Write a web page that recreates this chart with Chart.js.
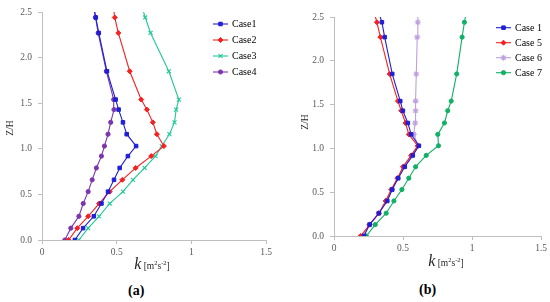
<!DOCTYPE html>
<html>
<head>
<meta charset="utf-8">
<script src="https://cdn.jsdelivr.net/npm/chart.js@4/dist/chart.umd.min.js"></script>
<style>
  html, body { margin: 0; padding: 0; background: #fff; }
  #wrap { position: relative; width: 550px; height: 302px; overflow: hidden; }
  canvas { position: absolute; top: 0; }
  #chartA { left: 0; }
  #chartB { left: 275px; }
  .tag { position: absolute; font: bold 14px 'Liberation Serif', 'Times New Roman', serif; color: #000; }
</style>
</head>
<body>
<div id="wrap">
  <canvas id="chartA" width="275" height="280"></canvas>
  <canvas id="chartB" width="275" height="280"></canvas>
  <div class="tag" style="left:128px; top:283px;">(a)</div>
  <div class="tag" style="left:419px; top:282px;">(b)</div>
</div>
<script>
// Z/H levels shared by every profile (last one is the clipped top of the lines)
const levelsZH = [0, 0.13, 0.26, 0.40, 0.53, 0.66, 0.79, 0.92, 1.03, 1.16, 1.29, 1.43, 1.54, 1.85, 2.27, 2.44, 2.5];

// panel (a)
const case1A = [0.22, 0.275, 0.347, 0.398, 0.442, 0.482, 0.52, 0.575, 0.63, 0.567, 0.542, 0.513, 0.493, 0.435, 0.38, 0.36, 0.353];
const case2A = [0.178, 0.236, 0.309, 0.382, 0.453, 0.538, 0.627, 0.731, 0.816, 0.769, 0.742, 0.702, 0.664, 0.587, 0.511, 0.487, 0.482];
const case3A = [0.247, 0.309, 0.382, 0.453, 0.542, 0.609, 0.687, 0.76, 0.802, 0.853, 0.887, 0.898, 0.916, 0.849, 0.727, 0.691, 0.68];
const case4A = [0.153, 0.193, 0.247, 0.276, 0.309, 0.336, 0.364, 0.398, 0.418, 0.442, 0.46, 0.482, 0.48, 0.431, 0.376, 0.358, 0.352];

// panel (b)
const case1B = [0.217, 0.258, 0.325, 0.386, 0.422, 0.465, 0.513, 0.571, 0.615, 0.559, 0.535, 0.499, 0.48, 0.422, 0.367, 0.347, 0.335];
const case5B = [0.193, 0.258, 0.325, 0.374, 0.415, 0.46, 0.50, 0.559, 0.606, 0.542, 0.518, 0.487, 0.463, 0.403, 0.336, 0.311, 0.30];
const case6B = [0.205, 0.258, 0.325, 0.38, 0.418, 0.462, 0.506, 0.565, 0.61, 0.578, 0.588, 0.591, 0.591, 0.596, 0.603, 0.607, 0.608];
const case7B = [0.234, 0.299, 0.378, 0.434, 0.492, 0.542, 0.591, 0.668, 0.757, 0.752, 0.80, 0.824, 0.849, 0.889, 0.928, 0.945, 0.952];

const xTicks = [0, 0.5, 1, 1.5];
const yTicks = [0, 0.5, 1.0, 1.5, 2.0, 2.5];

const SERIF = "'Liberation Serif', 'Times New Roman', 'DejaVu Serif', serif";
const AXIS_GREY = '#bfbfbf';
const TICK_GREY = '#595959';

function series(label, values, color, style, radius) {
  return {
    label: label,
    data: values.map((v, i) => ({ x: v, y: levelsZH[i] })),
    borderColor: color,
    backgroundColor: color,
    borderWidth: 1.1,
    pointStyle: style,
    pointRadius: values.map((v, i) => i === values.length - 1 ? 0 : radius),
    pointBorderWidth: style === 'crossRot' || style === 'star' ? 1.1 : 1,
    tension: 0
  };
}

function drawMarker(ctx, ds, x, y) {
  const r = Math.max.apply(null, ds.pointRadius);
  ctx.fillStyle = ds.backgroundColor;
  ctx.strokeStyle = ds.borderColor;
  ctx.lineWidth = ds.pointBorderWidth;
  if (Chart.helpers && Chart.helpers.drawPoint) {
    Chart.helpers.drawPoint(ctx, { pointStyle: ds.pointStyle, radius: r, rotation: 0, borderWidth: ds.pointBorderWidth }, x, y);
  } else {
    ctx.fillRect(x - r, y - r, 2 * r, 2 * r);
  }
}

// legend, axis titles drawn by hand so the mixed fonts come out right
const decorPlugin = {
  id: 'decor',
  afterDraw(chart, args, opts) {
    const ctx = chart.ctx;
    ctx.save();
    // legend
    chart.data.datasets.forEach((ds, i) => {
      const y = opts.legY + i * opts.legStep;
      ctx.strokeStyle = ds.borderColor;
      ctx.lineWidth = 1.1;
      ctx.beginPath();
      ctx.moveTo(opts.legX, y);
      ctx.lineTo(opts.legX + 15, y);
      ctx.stroke();
      drawMarker(ctx, ds, opts.legX + 7.5, y);
      ctx.fillStyle = '#000';
      ctx.font = '10px ' + SERIF;
      ctx.textAlign = 'left';
      ctx.textBaseline = 'middle';
      ctx.fillText(ds.label, opts.legX + 19, y + 0.5);
    });
    // y title
    ctx.save();
    ctx.translate(opts.yTitleX, opts.yTitleY);
    ctx.rotate(-Math.PI / 2);
    ctx.font = '9.5px ' + SERIF;
    ctx.fillStyle = '#262626';
    ctx.textAlign = 'center';
    ctx.textBaseline = 'middle';
    ctx.fillText('Z/H', 0, 0);
    ctx.restore();
    // x title: k [m2s-2]
    const parts = [
      { t: 'k', f: 'italic 16px ' + SERIF, dy: 0 },
      { t: ' [m', f: '9.5px ' + SERIF, dy: 0 },
      { t: '2', f: '6.5px ' + SERIF, dy: -4 },
      { t: 's', f: '9.5px ' + SERIF, dy: 0 },
      { t: '-2', f: '6.5px ' + SERIF, dy: -4 },
      { t: ']', f: '9.5px ' + SERIF, dy: 0 }
    ];
    let total = 0;
    parts.forEach(p => { ctx.font = p.f; p.w = ctx.measureText(p.t).width; total += p.w; });
    let x = opts.xTitleX - total / 2;
    ctx.fillStyle = '#262626';
    ctx.textAlign = 'left';
    ctx.textBaseline = 'alphabetic';
    parts.forEach(p => {
      ctx.font = p.f;
      ctx.fillText(p.t, x, opts.xTitleY + p.dy);
      x += p.w;
    });
    ctx.restore();
  }
};

function makePanel(id, datasets, box, decor) {
  const canvas = document.getElementById(id);
  new Chart(canvas, {
    type: 'line',
    data: { datasets: datasets },
    options: {
      responsive: false,
      animation: false,
      layout: { padding: { left: 0, top: box.top, right: canvas.width - box.right, bottom: 0 } },
      plugins: { legend: { display: false }, tooltip: { enabled: false }, decor: decor },
      scales: {
        x: {
          type: 'linear', min: 0, max: 1.5,
          afterBuildTicks: s => { s.ticks = xTicks.map(v => ({ value: v })); },
          afterFit: s => { s.height = canvas.height - box.bottom; },
          grid: { drawOnChartArea: false, drawTicks: true, tickLength: 4, color: AXIS_GREY },
          border: { color: AXIS_GREY, width: 1 },
          ticks: { color: TICK_GREY, padding: 3, font: { family: SERIF, size: 9.5 }, callback: v => String(v) }
        },
        y: {
          type: 'linear', min: 0, max: 2.5,
          afterBuildTicks: s => { s.ticks = yTicks.map(v => ({ value: v })); },
          afterFit: s => { s.width = box.left; },
          grid: { drawOnChartArea: false, drawTicks: true, tickLength: 4, color: AXIS_GREY },
          border: { color: AXIS_GREY, width: 1 },
          ticks: { color: TICK_GREY, padding: 6, font: { family: SERIF, size: 9.5 }, callback: v => v.toFixed(1) }
        }
      }
    },
    plugins: [decorPlugin]
  });
}

makePanel('chartA', [
  series('Case1', case1A, '#1f1fd6', 'rect', 2.5),
  series('Case2', case2A, '#f52020', 'rectRot', 2.5),
  series('Case3', case3A, '#22c896', 'crossRot', 2.8),
  series('Case4', case4A, '#7b35ae', 'circle', 2.1)
], { left: 42, right: 267, top: 12, bottom: 240 }, {
  legX: 213, legY: 24, legStep: 16,
  yTitleX: 10, yTitleY: 128, xTitleX: 152, xTitleY: 269
});

makePanel('chartB', [
  series('Case 1', case1B, '#1f1fd6', 'rect', 2.5),
  series('Case 5', case5B, '#f52020', 'rectRot', 2.5),
  series('Case 6', case6B, '#bfa0de', 'star', 3),
  series('Case 7', case7B, '#12b066', 'circle', 2.1)
], { left: 59, right: 267, top: 17, bottom: 236 }, {
  legX: 221, legY: 27.7, legStep: 15,
  yTitleX: 30, yTitleY: 122, xTitleX: 171, xTitleY: 266
});
</script>
</body>
</html>
